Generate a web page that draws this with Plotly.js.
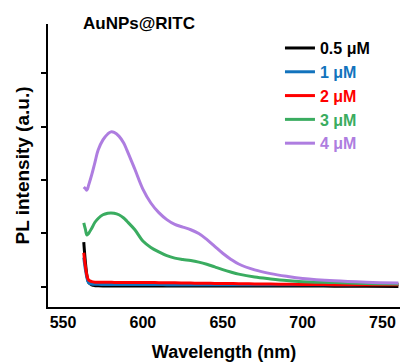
<!DOCTYPE html>
<html>
<head>
<meta charset="utf-8">
<script src="https://cdn.plot.ly/plotly-3.0.1.min.js"></script>
<style>html,body{margin:0;padding:0;background:#fff;}#chart{width:401px;height:362px;}</style>
</head>
<body>
<div id="chart"></div>
<script>
// Wavelength samples (nm)
const wavelength = [563, 564, 565, 566, 568, 570, 572, 575, 578, 580, 582, 585, 588, 590, 595, 600, 605, 610, 615, 620, 625, 630, 635, 640, 645, 650, 655, 660, 670, 680, 690, 700, 720, 740, 760];

// PL intensity (a.u.) per concentration
const c05 = [0.84, 0.47, 0.21, 0.09, 0.04, 0.025, 0.022, 0.02, 0.02, 0.02, 0.02, 0.02, 0.02, 0.02, 0.02, 0.02, 0.02, 0.02, 0.02, 0.02, 0.02, 0.02, 0.02, 0.02, 0.02, 0.02, 0.02, 0.02, 0.02, 0.02, 0.02, 0.02, 0.015, 0.012, 0.01];
const c1  = [0.55, 0.33, 0.17, 0.08, 0.055, 0.05, 0.049, 0.048, 0.047, 0.047, 0.046, 0.046, 0.046, 0.046, 0.045, 0.045, 0.045, 0.045, 0.044, 0.044, 0.044, 0.044, 0.043, 0.043, 0.043, 0.043, 0.043, 0.042, 0.042, 0.042, 0.042, 0.042, 0.043, 0.045, 0.047];
const c2  = [0.64, 0.39, 0.21, 0.13, 0.10, 0.09, 0.089, 0.088, 0.087, 0.087, 0.086, 0.086, 0.086, 0.086, 0.085, 0.085, 0.083, 0.081, 0.079, 0.077, 0.075, 0.073, 0.071, 0.069, 0.067, 0.065, 0.064, 0.062, 0.058, 0.055, 0.051, 0.047, 0.044, 0.042, 0.04];
const c3  = [1.20, 1.08, 0.97, 1.00, 1.10, 1.21, 1.28, 1.35, 1.38, 1.385, 1.38, 1.35, 1.29, 1.23, 1.07, 0.86, 0.74, 0.655, 0.585, 0.54, 0.515, 0.495, 0.465, 0.425, 0.375, 0.325, 0.28, 0.24, 0.185, 0.15, 0.12, 0.10, 0.085, 0.065, 0.056];
const c4  = [1.87, 1.84, 1.81, 1.90, 2.10, 2.33, 2.56, 2.75, 2.86, 2.90, 2.89, 2.82, 2.69, 2.56, 2.20, 1.83, 1.57, 1.39, 1.26, 1.17, 1.12, 1.07, 1.00, 0.89, 0.76, 0.63, 0.52, 0.43, 0.32, 0.25, 0.20, 0.16, 0.115, 0.09, 0.075];

const seriesNames = ["0.5 μM", "1 μM", "2 μM", "3 μM", "4 μM"];
const seriesColors = ["#000000", "#1273bd", "#ff0000", "#3aac60", "#ae7de0"];
const seriesData = [c05, c1, c2, c3, c4];

const xTickVals = [550, 600, 650, 700, 750];
const yTickVals = [0, 1, 2, 3, 4];

const FONT = "Liberation Sans, Arial, Helvetica, sans-serif";

const traces = seriesData.map((ys, i) => ({
  x: wavelength,
  y: ys,
  type: "scatter",
  mode: "lines",
  name: '<span style="color:' + seriesColors[i] + '">' + seriesNames[i] + '</span>',
  line: {color: seriesColors[i], width: 3, shape: "spline", smoothing: 1},
  hoverinfo: "skip"
}));

const layout = {
  width: 401,
  height: 362,
  margin: {l: 48, r: 1, t: 24, b: 55, pad: 0},
  paper_bgcolor: "#ffffff",
  plot_bgcolor: "#ffffff",
  font: {family: FONT, color: "#000", size: 16, weight: "bold"},
  showlegend: true,
  legend: {
    x: 0.659, y: 0.975, xanchor: "left", yanchor: "top",
    bgcolor: "rgba(0,0,0,0)",
    font: {family: FONT, size: 16, weight: "bold"},
    itemwidth: 30,
    tracegroupgap: 0
  },
  xaxis: {
    range: [540.6, 761],
    tickvals: xTickVals,
    ticktext: xTickVals.map(String),
    ticks: "",
    showline: true, linecolor: "#000", linewidth: 2,
    showgrid: false, zeroline: false,
    tickfont: {family: FONT, size: 16, weight: "bold"},
    title: {text: "Wavelength (nm)", font: {family: FONT, size: 18, weight: "bold"}, standoff: 15}
  },
  yaxis: {
    range: [-0.374, 4.916],
    tickvals: yTickVals,
    showticklabels: false,
    ticks: "outside", ticklen: 5, tickwidth: 2, tickcolor: "#000",
    showline: true, linecolor: "#000", linewidth: 2,
    showgrid: false, zeroline: false,
    title: {text: "PL intensity (a.u.)", font: {family: FONT, size: 19, weight: "bold"}, standoff: 6}
  },
  annotations: [{
    text: "AuNPs@RITC",
    xref: "paper", yref: "paper",
    x: 0.2585, y: 1.0035, xanchor: "center", yanchor: "middle",
    showarrow: false,
    font: {family: FONT, size: 17, weight: "bold", color: "#000"}
  }]
};

Plotly.newPlot("chart", traces, layout, {displayModeBar: false, staticPlot: true});
</script>
</body>
</html>
